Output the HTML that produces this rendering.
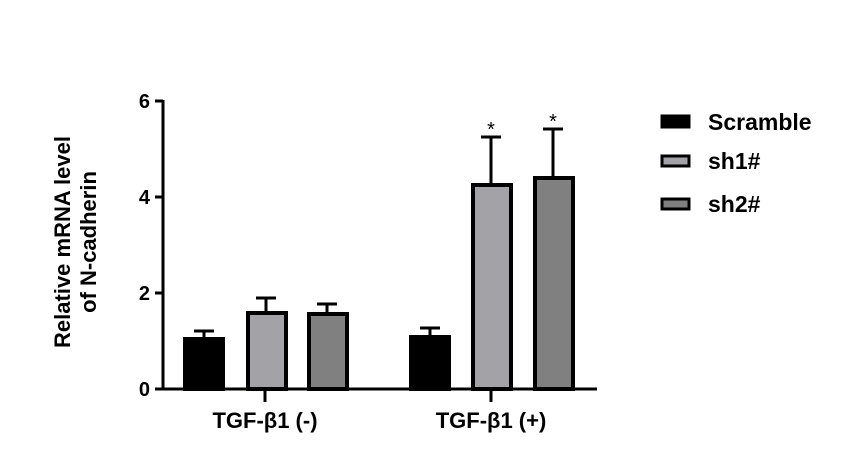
<!DOCTYPE html>
<html><head><style>body{margin:0;background:#fff}</style></head><body>
<svg width="852" height="463" xmlns="http://www.w3.org/2000/svg" font-family="Liberation Sans, Arial, sans-serif" font-weight="bold">
<g stroke="#000" stroke-width="3" fill="none">
<line x1="163" y1="100" x2="163" y2="390"/>
<line x1="161" y1="389" x2="597" y2="389"/>
<line x1="155" y1="101" x2="163" y2="101"/>
<line x1="155" y1="197" x2="163" y2="197"/>
<line x1="155" y1="293" x2="163" y2="293"/>
<line x1="155" y1="389" x2="163" y2="389"/>
<line x1="265" y1="389" x2="265" y2="402"/>
<line x1="491" y1="389" x2="491" y2="402"/>
</g>
<g fill="#000" font-size="20">
<text x="150" y="108" text-anchor="end">6</text>
<text x="150" y="204" text-anchor="end">4</text>
<text x="150" y="300" text-anchor="end">2</text>
<text x="150" y="396" text-anchor="end">0</text>
</g>
<g fill="#000" font-size="22">
<text x="265" y="428" text-anchor="middle">TGF-β1 (-)</text>
<text x="491" y="428" text-anchor="middle">TGF-β1 (+)</text>
</g>
<g stroke="#000" stroke-width="3">
<line x1="204" y1="337" x2="204" y2="331"/><line x1="194" y1="331" x2="214" y2="331"/>
<line x1="266" y1="311" x2="266" y2="298"/><line x1="256" y1="298" x2="276" y2="298"/>
<line x1="327" y1="312" x2="327" y2="304"/><line x1="317" y1="304" x2="337" y2="304"/>
<line x1="430" y1="335" x2="430" y2="328"/><line x1="420" y1="328" x2="440" y2="328"/>
<line x1="491" y1="183" x2="491" y2="137"/><line x1="481" y1="137" x2="501" y2="137"/>
<line x1="553" y1="176" x2="553" y2="129"/><line x1="543" y1="129" x2="563" y2="129"/>
</g>
<g stroke="#000" stroke-width="4">
<rect x="185" y="339" width="38" height="50" fill="#000"/>
<rect x="248" y="313" width="38" height="76" fill="#a3a3a7"/>
<rect x="309" y="314" width="38" height="75" fill="#808080"/>
<rect x="411" y="337" width="38" height="52" fill="#000"/>
<rect x="473" y="185" width="38" height="204" fill="#a3a3a7"/>
<rect x="535" y="178" width="38" height="211" fill="#808080"/>
</g>
<g font-size="20" text-anchor="middle" font-weight="normal">
<text x="491" y="136">*</text>
<text x="553" y="128">*</text>
</g>
<g stroke="#000" stroke-width="3">
<rect x="662" y="116" width="27" height="11" fill="#000"/>
<rect x="662" y="156" width="27" height="10" fill="#a3a3a7"/>
<rect x="662" y="199" width="27" height="10" fill="#808080"/>
</g>
<g font-size="23" fill="#000">
<text x="708" y="130">Scramble</text>
<text x="708" y="169">sh1#</text>
<text x="708" y="212">sh2#</text>
</g>
<g font-size="22" text-anchor="middle">
<text transform="translate(70,242) rotate(-90)">Relative mRNA level</text>
<text transform="translate(96,242) rotate(-90)">of N-cadherin</text>
</g>
</svg>
</body></html>
